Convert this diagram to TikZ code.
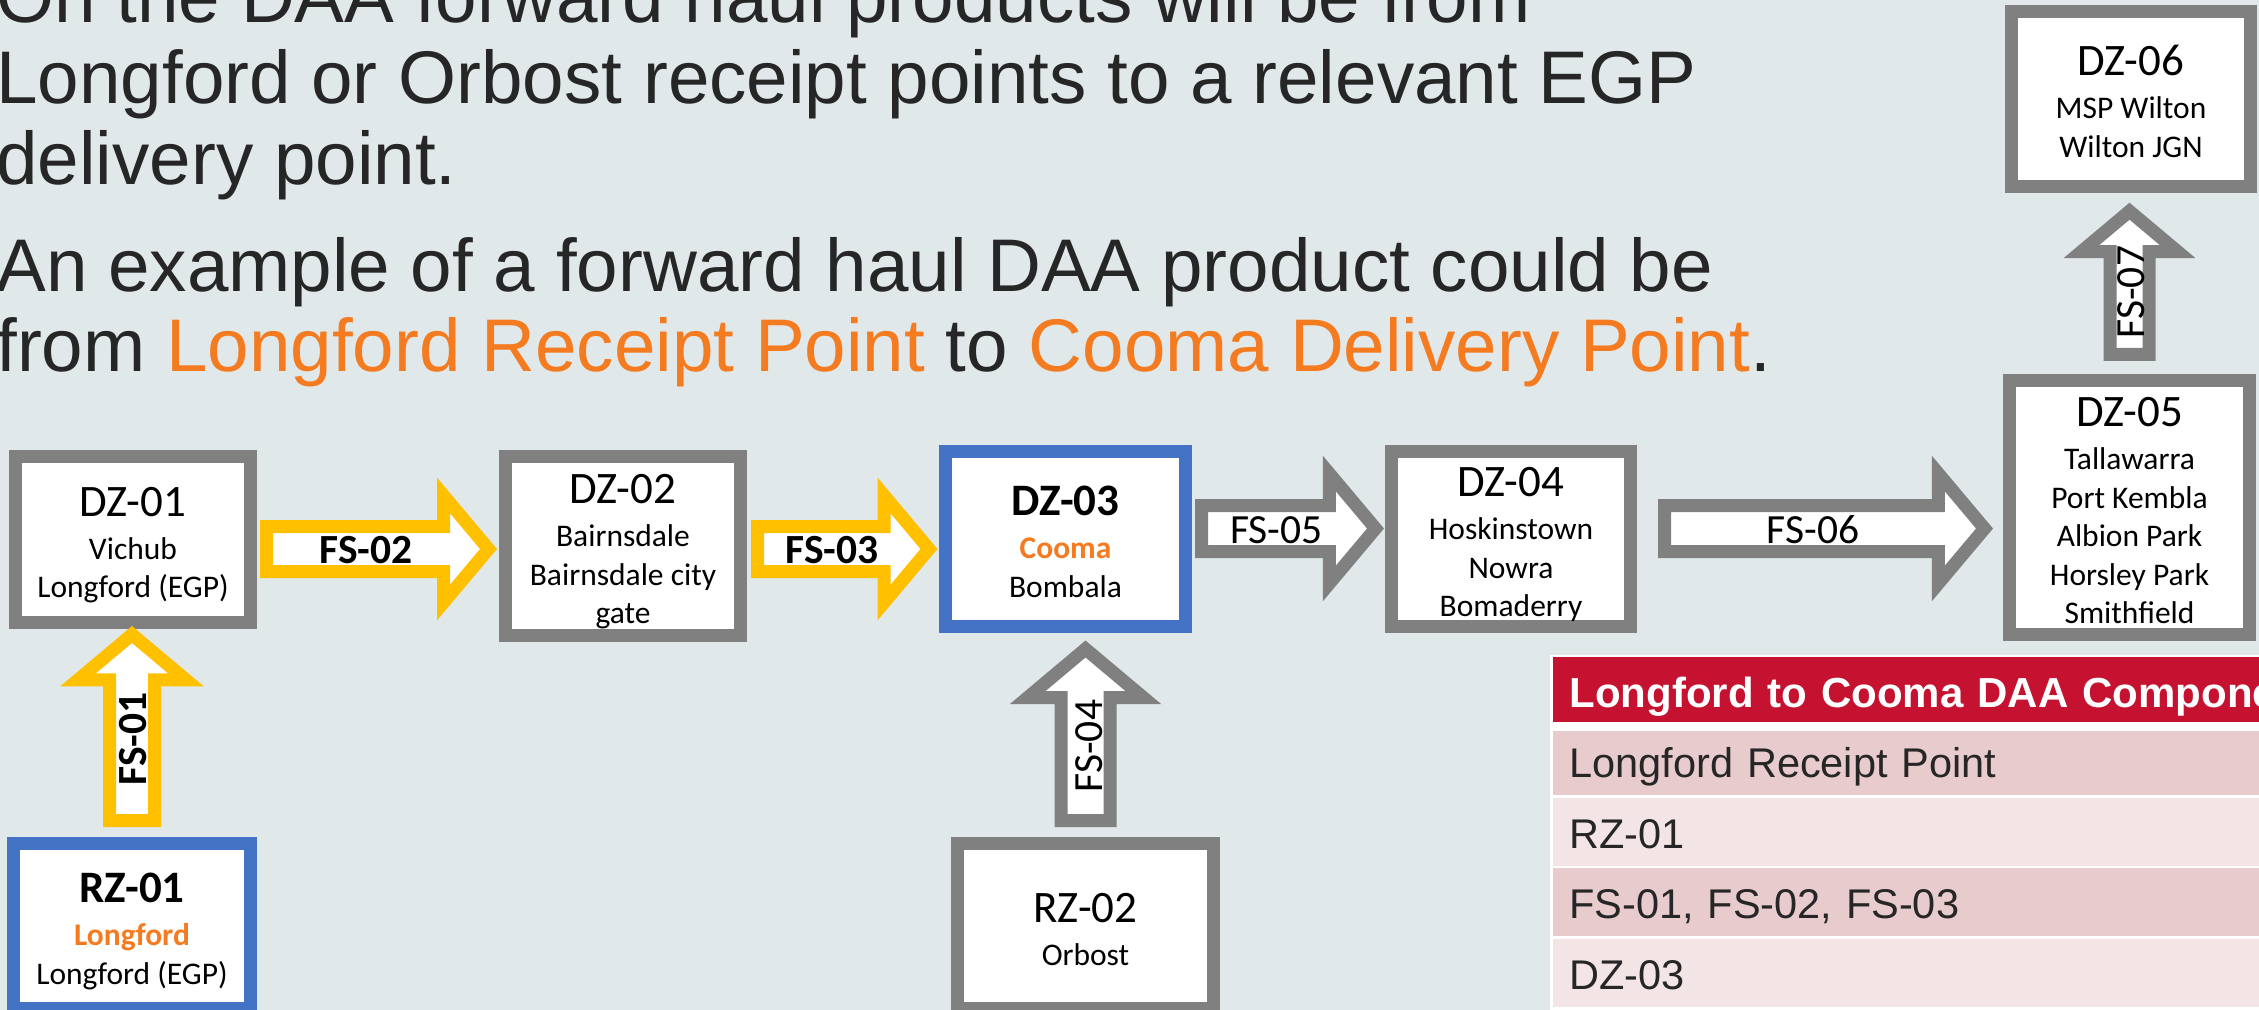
\documentclass[tikz,border=0pt]{standalone}
\usepackage{fontspec}
\setmainfont{Liberation Sans}
\newfontfamily\calibri{Carlito}

\definecolor{slidebg}{RGB}{224,232,234}
\definecolor{zonegray}{RGB}{128,128,128}
\definecolor{hubblue}{RGB}{68,114,196}
\definecolor{fsyellow}{RGB}{255,192,0}
\definecolor{hiorange}{RGB}{244,123,32}
\definecolor{inktext}{RGB}{38,38,38}
\definecolor{hdrred}{RGB}{196,18,48}
\definecolor{rowdark}{RGB}{232,203,205}
\definecolor{rowlight}{RGB}{243,229,230}

\newcommand{\zonetitle}[1]{{\fontsize{22.5pt}{27pt}\selectfont\rule{0pt}{21.5pt}#1}}
% block arrow: [options]{tail}{direction}{length}{shaft half width}{head half width}
\newcommand{\blockarrow}[6][]{%
  \draw[fsline, #1, rotate=#3] (#2) ++(0,#5) -- ++({#4-0.84*#6},0) -- ++(0,{#6-#5})
    -- ++({0.84*#6},{-#6}) -- ++({-0.84*#6},{-#6}) -- ++(0,{#6-#5}) -- ++({0.84*#6-#4},0) -- cycle;}

\begin{document}
\begin{tikzpicture}[
    x=0.5pt, y=-0.5pt,
    zone/.style={rectangle, draw=zonegray, line width=6.5pt, fill=white, align=center, inner sep=0pt, font=\calibri\fontsize{15.75pt}{19.25pt}\selectfont, execute at end node={\rule[-4pt]{0pt}{4pt}}},
    hub/.style={zone, draw=hubblue},
    fsline/.style={draw=zonegray, fill=white, line width=6.5pt, line join=miter},
    fsname/.style={anchor=base, inner sep=0pt, font=\calibri\fontsize{20.75pt}{24pt}\selectfont},
    fsbold/.style={fsname, font=\calibri\bfseries\fontsize{20.75pt}{24pt}\selectfont},
    slide/.style={anchor=base west, inner sep=0pt, align=left, text=inktext, font=\fontsize{37.3pt}{40.5pt}\selectfont},
    cell/.style={rectangle, anchor=north west, inner xsep=8pt, inner ysep=0pt, text width=430pt, align=left, text height=20pt, text depth=4pt, text=inktext, font=\fontsize{20.75pt}{24pt}\selectfont}
]
\useasboundingbox (0,0) rectangle (2259,1010);
\clip (0,0) rectangle (2259,1010);
\fill[slidebg] (0,0) rectangle (2259,1010);

% Nodes
\node[slide] (intro) at (-4,185) {On the DAA forward haul products will be from\\Longford or Orbost receipt points to a relevant EGP\\delivery point.};
\node[slide, font=\fontsize{37.3pt}{40pt}\selectfont] (example) at (-4,372) {An example of a forward haul DAA product could be\\from \textcolor{hiorange}{Longford Receipt Point} to \textcolor{hiorange}{Cooma Delivery Point}.};

\node[zone, minimum width=117.5pt, minimum height=83pt] (dz01) at (133,539.5) {\zonetitle{DZ-01}\\[2.25pt]Vichub\\Longford (EGP)};
\node[zone, minimum width=117.5pt, minimum height=89.5pt] (dz02) at (623,546) {\zonetitle{DZ-02}\\[2.25pt]Bairnsdale\\Bairnsdale city\\gate};
\node[hub, minimum width=120pt, minimum height=87.5pt] (dz03) at (1065.5,539) {\zonetitle{\bfseries DZ-03}\\[2.25pt]{\bfseries\color{hiorange}Cooma}\\Bombala};
\node[zone, minimum width=119.5pt, minimum height=87.5pt] (dz04) at (1511,539) {\zonetitle{DZ-04}\\[2.25pt]Hoskinstown\\Nowra\\Bomaderry};
\node[zone, minimum width=120pt, minimum height=127pt] (dz05) at (2129.5,507.5) {\zonetitle{DZ-05}\\[2.25pt]Tallawarra\\Port Kembla\\Albion Park\\Horsley Park\\Smithfield};
\node[zone, minimum width=119.5pt, minimum height=87.5pt] (dz06) at (2131,99) {\zonetitle{DZ-06}\\[2.25pt]MSP Wilton\\Wilton JGN};
\node[hub, minimum width=118.5pt, minimum height=82.5pt] (rz01) at (132,926) {\zonetitle{\bfseries RZ-01}\\[2.25pt]{\bfseries\color{hiorange}Longford}\\Longford (EGP)};
\node[zone, minimum width=128pt, minimum height=82.5pt] (rz02) at (1085.5,926) {\zonetitle{RZ-02}\\[2.25pt]Orbost};

% Arrows
\coordinate (fs01tail) at ([yshift=8.25pt]rz01.north);
\coordinate (fs02tail) at ([xshift=4.75pt, yshift=-4.75pt]dz01.east);
\coordinate (fs03tail) at ([xshift=5.25pt, yshift=-1.5pt]dz02.east);
\coordinate (fs04tail) at ([yshift=8.25pt]rz02.north);
\coordinate (fs05tail) at ([xshift=4.75pt, yshift=5.25pt]dz03.east);
\coordinate (fs06tail) at ([xshift=13.75pt, yshift=5.25pt]dz04.east);
\coordinate (fs07tail) at ([yshift=9.75pt]dz05.north);

\blockarrow[draw=fsyellow]{fs01tail}{90}{186}{22.5}{54}
\blockarrow[draw=fsyellow]{fs02tail}{0}{222}{22.5}{53.5}
\blockarrow[draw=fsyellow]{fs03tail}{0}{171.5}{22.5}{53.5}
\blockarrow{fs04tail}{90}{171.5}{24.5}{58}
\blockarrow{fs05tail}{0}{174}{23}{55}
\blockarrow{fs06tail}{0}{320}{23}{55}
\blockarrow{fs07tail}{90}{143.3}{19.5}{48}

\node[fsbold, rotate=90] (fs01) at ([xshift=7.25pt, yshift=40.75pt]fs01tail) {FS-01};
\node[fsbold] (fs02) at ([xshift=49.75pt, yshift=-7pt]fs02tail) {FS-02};
\node[fsbold] (fs03) at ([xshift=37.25pt, yshift=-7pt]fs03tail) {FS-03};
\node[fsname, rotate=90] (fs04) at ([xshift=8.25pt, yshift=37.25pt]fs04tail) {FS-04};
\node[fsname] (fs05) at ([xshift=37.5pt, yshift=-7.25pt]fs05tail) {FS-05};
\node[fsname] (fs06) at ([xshift=74.25pt, yshift=-7.25pt]fs06tail) {FS-06};
\node[fsname, rotate=90] (fs07) at ([xshift=7.5pt, yshift=31.25pt]fs07tail) {FS-07};

% Table
\fill[white] (1550,655) rectangle (2300,1015);
\node[cell, fill=hdrred, text=white, font=\bfseries\fontsize{21pt}{24pt}\selectfont, minimum height=32.5pt, text height=21.5pt] (hdr) at (1553,657) {Longford to Cooma DAA Components};
\node[cell, fill=rowdark, minimum height=32pt, text height=18pt] (row1) at (1553,731) {Longford Receipt Point};
\node[cell, fill=rowlight, minimum height=34pt] (row2) at (1553,798) {RZ-01};
\node[cell, fill=rowdark, minimum height=34pt] (row3) at (1553,868) {FS-01, FS-02, FS-03};
\node[cell, fill=rowlight, minimum height=34pt] (row4) at (1553,939) {DZ-03};

\end{tikzpicture}
\end{document}
